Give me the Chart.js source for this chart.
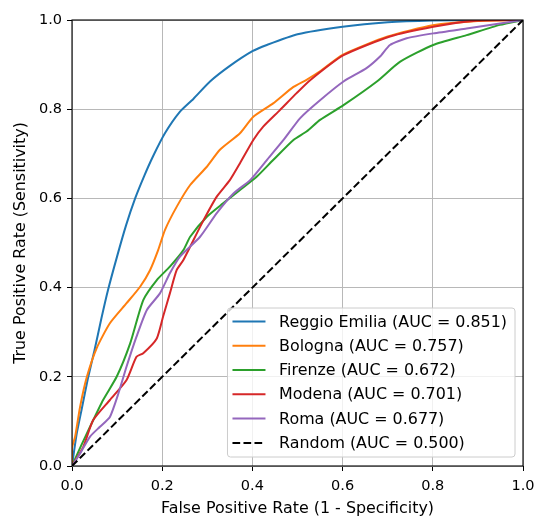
<!DOCTYPE html>
<html>
<head>
<meta charset="utf-8">
<script src="https://cdn.jsdelivr.net/npm/chart.js@4.4.1/dist/chart.umd.min.js"></script>
<style>
body { margin: 0; background: #fff; }
#wrap { width: 534px; height: 518px; }
</style>
</head>
<body>
<div id="wrap"><canvas id="roc" width="534" height="518"></canvas></div>
<script>
// ROC curves (false positive rate -> true positive rate)
const reggioFpr = [0, 0.01, 0.022, 0.035, 0.05, 0.065, 0.08, 0.1, 0.12, 0.14, 0.16, 0.18, 0.206, 0.239, 0.269, 0.306, 0.35, 0.4, 0.432, 0.5, 0.6, 0.7, 0.8, 0.9, 1];
const reggioTpr = [0, 0.07, 0.13, 0.195, 0.26, 0.33, 0.395, 0.47, 0.54, 0.6, 0.65, 0.695, 0.746, 0.794, 0.823, 0.862, 0.897, 0.93, 0.944, 0.968, 0.985, 0.995, 0.999, 1, 1];

const bolognaFpr = [0, 0, 0.007, 0.018, 0.033, 0.055, 0.084, 0.121, 0.151, 0.173, 0.191, 0.206, 0.232, 0.262, 0.299, 0.328, 0.3725, 0.402, 0.446, 0.491, 0.52, 0.55, 0.6, 0.7, 0.8, 0.9, 1];
const bolognaTpr = [0, 0.04, 0.066, 0.133, 0.2, 0.265, 0.32, 0.365, 0.402, 0.439, 0.484, 0.529, 0.581, 0.63, 0.671, 0.709, 0.746, 0.783, 0.813, 0.85, 0.866, 0.885, 0.922, 0.963, 0.988, 0.998, 1];

const firenzeFpr = [0, 0.02, 0.04, 0.069, 0.099, 0.129, 0.158, 0.188, 0.217, 0.247, 0.262, 0.299, 0.335, 0.3725, 0.41, 0.446, 0.491, 0.52, 0.55, 0.602, 0.676, 0.727, 0.801, 0.875, 0.949, 1];
const firenzeTpr = [0, 0.045, 0.088, 0.148, 0.2, 0.275, 0.372, 0.417, 0.447, 0.484, 0.514, 0.559, 0.589, 0.619, 0.649, 0.686, 0.731, 0.75, 0.776, 0.809, 0.862, 0.906, 0.944, 0.966, 0.989, 1];

const modenaFpr = [0, 0.025, 0.047, 0.084, 0.121, 0.143, 0.158, 0.188, 0.202, 0.217, 0.232, 0.247, 0.288, 0.321, 0.35, 0.3725, 0.402, 0.424, 0.461, 0.498, 0.528, 0.602, 0.705, 0.801, 0.89, 1];
const modenaTpr = [0, 0.043, 0.103, 0.148, 0.193, 0.245, 0.253, 0.286, 0.335, 0.387, 0.439, 0.462, 0.544, 0.604, 0.641, 0.679, 0.731, 0.761, 0.798, 0.836, 0.865, 0.921, 0.963, 0.985, 0.998, 1];

const romaFpr = [0, 0.018, 0.04, 0.062, 0.084, 0.103, 0.121, 0.143, 0.166, 0.195, 0.217, 0.239, 0.284, 0.321, 0.358, 0.395, 0.432, 0.469, 0.506, 0.55, 0.602, 0.653, 0.683, 0.705, 0.742, 0.801, 0.875, 0.949, 1];
const romaTpr = [0, 0.028, 0.066, 0.088, 0.11, 0.163, 0.223, 0.29, 0.35, 0.387, 0.432, 0.469, 0.514, 0.567, 0.611, 0.641, 0.686, 0.731, 0.78, 0.82, 0.862, 0.892, 0.918, 0.944, 0.959, 0.97, 0.981, 0.992, 1];

const randomFpr = [0, 1];
const randomTpr = [0, 1];

const labels = [
    'Reggio Emilia (AUC = 0.851)',
    'Bologna (AUC = 0.757)',
    'Firenze (AUC = 0.672)',
    'Modena (AUC = 0.701)',
    'Roma (AUC = 0.677)',
    'Random (AUC = 0.500)'
];
const colors = ['#1f77b4', '#ff7f0e', '#2ca02c', '#d62728', '#9467bd', '#000000'];

const xTicks = [0, 0.2, 0.4, 0.6, 0.8, 1.0];
const yTicks = [0, 0.2, 0.4, 0.6, 0.8, 1.0];

const toPoints = (xs, ys) => xs.map((x, i) => ({ x: x, y: ys[i] }));
const curves = [
    toPoints(reggioFpr, reggioTpr),
    toPoints(bolognaFpr, bolognaTpr),
    toPoints(firenzeFpr, firenzeTpr),
    toPoints(modenaFpr, modenaTpr),
    toPoints(romaFpr, romaTpr),
    toPoints(randomFpr, randomTpr)
];

const FONT = 'DejaVu Sans';
const TICK_FS = 14.5;
const LABEL_FS = 15.9;
Chart.defaults.font.family = FONT;
Chart.defaults.font.size = TICK_FS;
Chart.defaults.color = '#000';

// axes frame on all four sides + legend in the lower right, like matplotlib
const frameAndLegend = {
    id: 'frameAndLegend',
    afterDraw(chart) {
        const { ctx, chartArea: a } = chart;
        ctx.save();
        ctx.strokeStyle = '#000';
        ctx.lineWidth = 1.1;
        ctx.strokeRect(a.left, a.top, a.right - a.left, a.bottom - a.top);

        ctx.font = LABEL_FS + 'px "' + FONT + '"';
        const sets = chart.data.datasets;
        const textW = Math.max(...sets.map(d => ctx.measureText(d.label).width));
        const rowH = 24.3;
        const w = 5 + 33 + 13.6 + textW + 8;
        const h = 149;
        const x0 = a.right - 8 - w;
        const y0 = a.bottom - 9 - h;
        ctx.beginPath();
        ctx.roundRect(x0, y0, w, h, 3);
        ctx.fillStyle = 'rgba(255,255,255,0.8)';
        ctx.fill();
        ctx.strokeStyle = '#cccccc';
        ctx.lineWidth = 1;
        ctx.stroke();

        sets.forEach((d, i) => {
            const cy = y0 + 13.4 + i * rowH;
            ctx.beginPath();
            ctx.setLineDash(d.borderDash || []);
            ctx.strokeStyle = d.borderColor;
            ctx.lineWidth = d.borderWidth;
            ctx.moveTo(x0 + 5, cy);
            ctx.lineTo(x0 + 38, cy);
            ctx.stroke();
            ctx.setLineDash([]);
            ctx.fillStyle = '#000';
            ctx.textBaseline = 'middle';
            ctx.textAlign = 'left';
            ctx.fillText(d.label, x0 + 51.6, cy + 1);
        });
        ctx.restore();
    }
};

const ctx = document.getElementById('roc').getContext('2d');
const chart = new Chart(ctx, {
    type: 'line',
    data: {
        datasets: curves.map((pts, i) => ({
            label: labels[i],
            data: pts,
            borderColor: colors[i],
            backgroundColor: colors[i],
            borderWidth: 2,
            borderDash: i === 5 ? [7.7, 3.3] : [],
            pointRadius: 0,
            tension: 0.2,
            fill: false,
            order: 5 - i
        }))
    },
    options: {
        responsive: false,
        animation: false,
        layout: { padding: { left: 0, right: 11, top: 20, bottom: 0 } },
        plugins: {
            legend: { display: false },
            tooltip: { enabled: false }
        },
        scales: {
            x: {
                type: 'linear',
                min: 0,
                max: 1,
                afterBuildTicks: s => { s.ticks = xTicks.map(v => ({ value: v })); },
                afterFit: s => { s.height = 52; s.paddingLeft = 0; s.paddingRight = 0; },
                ticks: { callback: v => v.toFixed(1), padding: 7, maxRotation: 0 },
                grid: { color: '#b8b8b8', lineWidth: 1, tickColor: '#000', tickLength: 5, tickWidth: 1 },
                border: { display: false },
                title: { display: true, text: 'False Positive Rate (1 - Specificity)', font: { size: LABEL_FS }, padding: { top: 0, bottom: 0 } }
            },
            y: {
                type: 'linear',
                min: 0,
                max: 1,
                afterBuildTicks: s => { s.ticks = yTicks.map(v => ({ value: v })); },
                afterFit: s => { s.width = 72; s.paddingTop = 0; s.paddingBottom = 0; },
                ticks: { callback: v => v.toFixed(1), padding: 5 },
                grid: { color: '#b8b8b8', lineWidth: 1, tickColor: '#000', tickLength: 5, tickWidth: 1 },
                border: { display: false },
                title: { display: true, text: 'True Positive Rate (Sensitivity)', font: { size: LABEL_FS }, padding: { top: 11.4, bottom: 0 } }
            }
        }
    },
    plugins: [frameAndLegend]
});
</script>
</body>
</html>
